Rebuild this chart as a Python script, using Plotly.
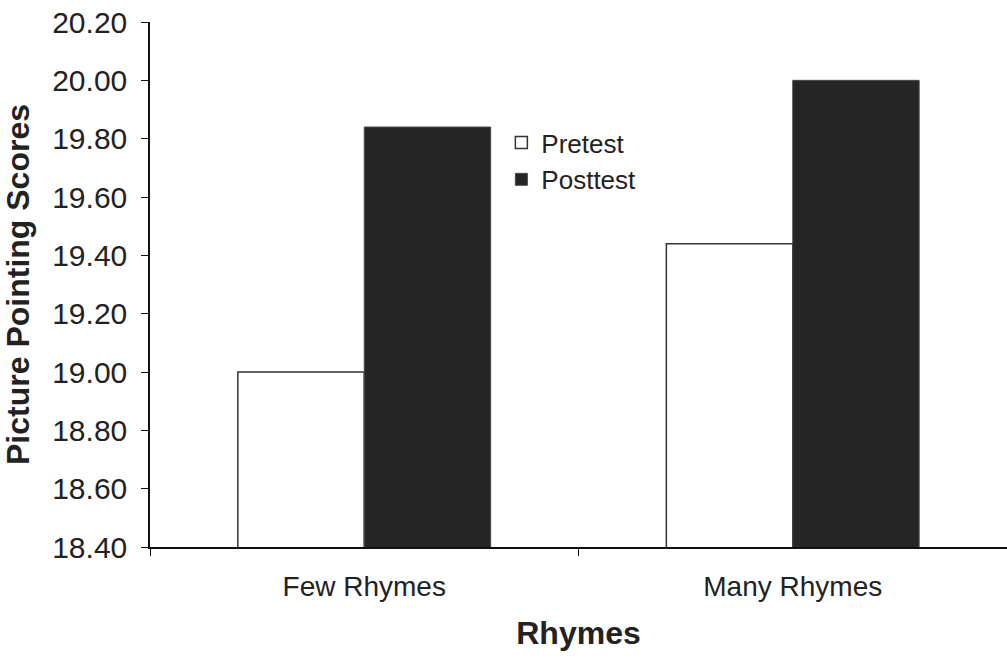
import plotly.graph_objects as go

categories = ["Few Rhymes", "Many Rhymes"]
pretest = [19.00, 19.44]
posttest = [19.84, 20.00]
y_ticks = [18.4, 18.6, 18.8, 19.0, 19.2, 19.4, 19.6, 19.8, 20.0, 20.2]

FONT = "Liberation Sans, Arial, sans-serif"

fig = go.Figure()
fig.add_trace(go.Bar(
    name="Pretest", x=categories, y=pretest,
    marker=dict(color="white", line=dict(color="#333333", width=1.5)),
))
fig.add_trace(go.Bar(
    name="Posttest", x=categories, y=posttest,
    marker=dict(color="#262626", line=dict(color="#4a4a4a", width=1)),
))

fig.update_layout(
    width=1007, height=660,
    margin=dict(l=150, r=0, t=22, b=113),
    paper_bgcolor="white", plot_bgcolor="white",
    barmode="group", bargap=0.41, bargroupgap=0,
    font=dict(family=FONT, color="#111111"),
    showlegend=True,
    legend=dict(
        x=0.41, y=0.815, xanchor="left", yanchor="top",
        font=dict(size=26, family=FONT, color="#222222"),
        bgcolor="rgba(0,0,0,0)", tracegroupgap=0,
    ),
    xaxis=dict(
        showline=True, linecolor="#111111", linewidth=1.5,
        ticks="outside", tickson="boundaries", ticklen=7, tickcolor="#111111",
        tickfont=dict(size=28, family=FONT, color="#222222"),
        ticklabelstandoff=14,
        title=dict(text="<b>Rhymes</b>", font=dict(size=32, family=FONT, color="#222222"), standoff=20),
        showgrid=False,
    ),
    yaxis=dict(
        range=[18.4, 20.2], tickvals=y_ticks, tickformat=".2f",
        showline=True, linecolor="#111111", linewidth=1.5,
        ticks="outside", ticklen=7, tickcolor="#111111",
        tickfont=dict(size=30, family=FONT, color="#222222"),
        ticklabelstandoff=8,
        title=dict(text="<b>Picture Pointing Scores</b>", font=dict(size=32, family=FONT, color="#222222"), standoff=18),
        showgrid=False, zeroline=False,
    ),
)

fig.write_html("out.html")
